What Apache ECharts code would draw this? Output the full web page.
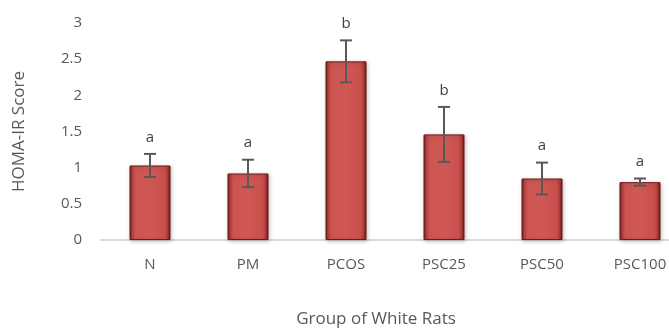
<!DOCTYPE html>
<html><head><meta charset="utf-8">
<script src="https://cdn.jsdelivr.net/npm/echarts@6/dist/echarts.min.js"></script>
<style>html,body{margin:0;padding:0;background:#fff}#c{width:669px;height:331px}</style>
</head><body><div id="c"></div>
<script>
const categories = ["N", "PM", "PCOS", "PSC25", "PSC50", "PSC100"];
const means = [1.03, 0.92, 2.47, 1.46, 0.85, 0.80];
const errors = [0.16, 0.19, 0.29, 0.38, 0.22, 0.05];
const letters = ["a", "a", "b", "b", "a", "a"];
const yTicks = [0, 0.5, 1, 1.5, 2, 2.5, 3];

const font = "'Open Sans', 'Liberation Sans', sans-serif";
const chart = echarts.init(document.getElementById('c'), null, {renderer: 'canvas'});
const barGrad = new echarts.graphic.LinearGradient(0, 0, 1, 0, [
  {offset: 0, color: '#5e1412'},
  {offset: 0.06, color: '#b0403d'},
  {offset: 0.14, color: '#cc5451'},
  {offset: 0.5, color: '#cf5855'},
  {offset: 0.86, color: '#c84f4c'},
  {offset: 0.94, color: '#a83a37'},
  {offset: 1, color: '#4a0f0e'}
]);
chart.setOption({
  animation: false,
  grid: {left: 101, width: 588, top: 23, height: 217, containLabel: false, outerBoundsMode: 'none'},
  xAxis: {
    type: 'category', data: categories,
    axisLine: {lineStyle: {color: '#d9d9d9', width: 2}},
    axisTick: {show: false},
    axisLabel: {color: '#595959', fontSize: 15, fontFamily: font, margin: 17},
    name: 'Group of White Rats', nameLocation: 'middle', nameGap: 71,
    nameTextStyle: {color: '#595959', fontSize: 17, fontFamily: font, padding: [0, 0, 0, -38]}
  },
  yAxis: {
    type: 'value', min: 0, max: 3, interval: 0.5,
    axisLine: {show: false}, axisTick: {show: false}, splitLine: {show: false},
    axisLabel: {color: '#595959', fontSize: 15, fontFamily: font, margin: 19,
      formatter: v => yTicks.includes(v) ? String(v) : ''},
    name: 'HOMA-IR Score', nameLocation: 'middle', nameGap: 73,
    nameTextStyle: {color: '#595959', fontSize: 17, fontFamily: font}
  },
  series: [
    {
      type: 'bar', data: means, barWidth: 41,
      itemStyle: {color: barGrad, borderColor: '#6e1a18', borderWidth: 1,
        shadowColor: 'rgba(0,0,0,0.25)', shadowBlur: 4, shadowOffsetX: 1, shadowOffsetY: 1}
    },
    {
      type: 'custom', data: means.map((m, i) => [i, m, errors[i]]),
      renderItem: (params, api) => {
        const i = api.value(0), m = api.value(1), e = api.value(2);
        const top = api.coord([i, m + e]);
        const bot = api.coord([i, m - e]);
        const x = top[0], w = 6;
        const st = {stroke: '#595959', lineWidth: 2};
        return {type: 'group', children: [
          {type: 'line', shape: {x1: x, y1: top[1], x2: x, y2: bot[1]}, style: st},
          {type: 'line', shape: {x1: x - w, y1: top[1], x2: x + w, y2: top[1]}, style: st},
          {type: 'line', shape: {x1: x - w, y1: bot[1], x2: x + w, y2: bot[1]}, style: st},
          {type: 'text', x: x, y: top[1] - 9, style: {text: letters[i], fill: '#404040',
            font: '15px ' + font, textAlign: 'center', textVerticalAlign: 'bottom'}}
        ]};
      },
      z: 5
    }
  ]
});
</script></body></html>
